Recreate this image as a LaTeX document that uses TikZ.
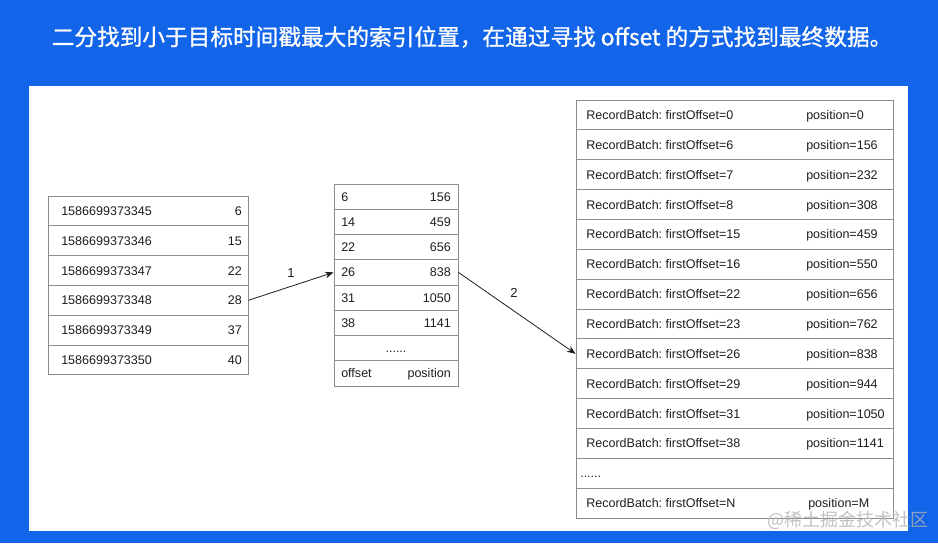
\documentclass[tikz,border=0pt]{standalone}
\usepackage{fontspec}
\setmainfont{Liberation Sans}
\newfontfamily\cjk{Noto Sans CJK SC}
\newfontfamily\cjktitle{Noto Sans CJK SC}[FakeBold=0.9]
\usetikzlibrary{arrows.meta}
\definecolor{bgblue}{RGB}{18,100,232}
\definecolor{gridgray}{RGB}{140,140,140}
\definecolor{ink}{RGB}{30,30,30}
\tikzset{
  cell/.style={draw=gridgray, line width=0.6pt, rectangle, inner sep=0pt},
  txt/.style={text=ink, font=\fontsize{9.4}{11}\selectfont, inner sep=0pt, text height=6.8pt, text depth=0pt},
  conn/.style={draw=ink, line width=0.6pt, -{Stealth[length=6.5pt,width=5pt]}},
  lbl/.style={text=ink, font=\fontsize{9.8}{11}\selectfont, inner sep=0pt},
}
\frenchspacing
\begin{document}
\begin{tikzpicture}[x=0.75pt,y=-0.75pt]
\useasboundingbox (0,0) rectangle (938,543);
\fill[bgblue] (0,0) rectangle (938,543);
\fill[white] (29,86) rectangle (908,531);
% title
\node[text=white, inner sep=0pt, font=\cjktitle\fontsize{17}{20}\selectfont] (title) at (472,37) {二分找到小于目标时间戳最大的索引位置，在通过寻找 offset 的方式找到最终数据。};
% left table
\foreach \t/\v [count=\i from 0] in {1586699373345/6,1586699373346/15,1586699373347/22,1586699373348/28,1586699373349/37,1586699373350/40}{
  \node[cell, minimum width=200*0.75pt, minimum height=29.8*0.75pt] (L\i) at (148,{196+29.8*(\i+0.5)}) {};
  \node[txt, anchor=west] (Lt\i) at (61,{196+29.8*(\i+0.5)}) {\t};
  \node[txt, anchor=east] (Lv\i) at (242,{196+29.8*(\i+0.5)}) {\v};
}
% middle table
\foreach \t/\v [count=\i from 0] in {6/156,14/459,22/656,26/838,31/1050,38/1141}{
  \node[cell, minimum width=124*0.75pt, minimum height=25.25*0.75pt] (M\i) at (396,{184+25.25*(\i+0.5)}) {};
  \node[txt, anchor=west] (Mt\i) at (341,{184+25.25*(\i+0.5)}) {\t};
  \node[txt, anchor=east] (Mv\i) at (451,{184+25.25*(\i+0.5)}) {\v};
}
\node[cell, minimum width=124*0.75pt, minimum height=25.25*0.75pt] (M6) at (396,{184+25.25*6.5}) {};
\node[txt] (Mdots) at (396,{184+25.25*6.5}) {......};
\node[cell, minimum width=124*0.75pt, minimum height=25.25*0.75pt] (M7) at (396,{184+25.25*7.5}) {};
\node[txt, anchor=west] (Mt7) at (341,{184+25.25*7.5}) {offset};
\node[txt, anchor=east] (Mv7) at (451,{184+25.25*7.5}) {position};
% right table
\foreach \t/\v [count=\i from 0] in {0/0,6/156,7/232,8/308,15/459,16/550,22/656,23/762,26/838,29/944,31/1050,38/1141}{
  \node[cell, minimum width=317*0.75pt, minimum height=29.86*0.75pt] (R\i) at (734.5,{100+29.86*(\i+0.5)}) {};
  \node[txt, anchor=west] (Rt\i) at (586,{100+29.86*(\i+0.5)}) {RecordBatch: firstOffset=\t};
  \node[txt, anchor=west] (Rv\i) at (806,{100+29.86*(\i+0.5)}) {position=\v};
}
\node[cell, minimum width=317*0.75pt, minimum height=29.86*0.75pt] (R12) at (734.5,{100+29.86*12.5}) {};
\node[txt, anchor=west] (Rdots) at (580,{100+29.86*12.5}) {......};
\node[cell, minimum width=317*0.75pt, minimum height=29.86*0.75pt] (R13) at (734.5,{100+29.86*13.5}) {};
\node[txt, anchor=west] (Rt13) at (586,{100+29.86*13.5}) {RecordBatch: firstOffset=N};
\node[txt, anchor=west] (Rv13) at (808,{100+29.86*13.5}) {position=M};
% connectors
\draw[conn] (L3.east) -- (M3.west);
\draw[conn] (M3.east) -- (R8.west);
\node[lbl] (l1) at (291,273) {1};
\node[lbl] (l2) at (514,293) {2};
% watermark
\node[text=gray!60, opacity=0.8, inner sep=0pt, font=\cjk\fontsize{13.5}{15}\selectfont] (wm) at (848,520) {@稀土掘金技术社区};
\end{tikzpicture}
\end{document}
